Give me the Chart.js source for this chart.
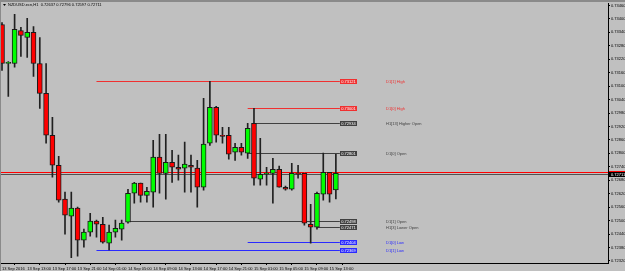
<!DOCTYPE html>
<html>
<head>
<meta charset="utf-8">
<script src="https://cdn.jsdelivr.net/npm/chart.js@4.4.0/dist/chart.umd.min.js"></script>
<style>
  html, body { margin: 0; padding: 0; background: #c0c0c0; overflow: hidden; }
  #wrap { width: 625px; height: 271px; }
</style>
</head>
<body>
<div id="wrap"><canvas id="chart" width="625" height="271"></canvas></div>
<script>
// NZDUSD H1, 13 Sep 09:00 .. 15 Sep 14:00
const chartTitle = 'NZDUSD.ecn,H1  0.72637 0.72796 0.72597 0.72711';
const timeLabels = ['13 Sep 2016', '13 Sep 13:00', '13 Sep 17:00', '13 Sep 21:00', '14 Sep 01:00', '14 Sep 05:00',
  '14 Sep 09:00', '14 Sep 13:00', '14 Sep 17:00', '14 Sep 21:00', '15 Sep 01:00', '15 Sep 05:00', '15 Sep 09:00', '15 Sep 13:00'];

const openPrices = [0.73375, 0.73201, 0.73201, 0.73348, 0.73317, 0.73340, 0.73201, 0.73068, 0.72881, 0.72747,
  0.72596, 0.72520, 0.72556, 0.72413, 0.72449, 0.72498, 0.72484, 0.72400, 0.72449, 0.72462,
  0.72493, 0.72622, 0.72667, 0.72613, 0.72627, 0.72783, 0.72711, 0.72760, 0.72738, 0.72734,
  0.72747, 0.72734, 0.72649, 0.72845, 0.73005, 0.72881, 0.72881, 0.72805, 0.72827, 0.72801,
  0.72934, 0.72685, 0.72707, 0.72711, 0.72729, 0.72649, 0.72640, 0.72711, 0.72711, 0.72484,
  0.72471, 0.72618, 0.72716, 0.72637];
const highPrices = [0.73384, 0.73210, 0.73420, 0.73362, 0.73402, 0.73366, 0.73317, 0.73201, 0.72961, 0.72787,
  0.72627, 0.72627, 0.72560, 0.72462, 0.72533, 0.72502, 0.72515, 0.72480, 0.72502, 0.72502,
  0.72640, 0.72671, 0.72667, 0.72649, 0.72858, 0.72885, 0.72885, 0.72814, 0.72792, 0.72850,
  0.72792, 0.72769, 0.73045, 0.73121, 0.73010, 0.72916, 0.72916, 0.72845, 0.72845, 0.72934,
  0.73001, 0.72867, 0.72738, 0.72778, 0.72743, 0.72654, 0.72756, 0.72747, 0.72711, 0.72573,
  0.72627, 0.72801, 0.72716, 0.72796];
const lowPrices = [0.73170, 0.73054, 0.73184, 0.73233, 0.73228, 0.73143, 0.73001, 0.72845, 0.72694, 0.72582,
  0.72440, 0.72335, 0.72342, 0.72382, 0.72431, 0.72426, 0.72400, 0.72369, 0.72426, 0.72413,
  0.72489, 0.72578, 0.72582, 0.72582, 0.72560, 0.72622, 0.72596, 0.72671, 0.72680, 0.72627,
  0.72627, 0.72560, 0.72636, 0.72836, 0.72850, 0.72845, 0.72774, 0.72769, 0.72792, 0.72778,
  0.72658, 0.72658, 0.72658, 0.72578, 0.72649, 0.72636, 0.72636, 0.72689, 0.72480, 0.72400,
  0.72462, 0.72591, 0.72582, 0.72597];
const closePrices = [0.73201, 0.73206, 0.73353, 0.73326, 0.73340, 0.73201, 0.73068, 0.72881, 0.72747, 0.72591,
  0.72524, 0.72556, 0.72413, 0.72449, 0.72498, 0.72484, 0.72404, 0.72449, 0.72466, 0.72489,
  0.72622, 0.72667, 0.72613, 0.72631, 0.72783, 0.72711, 0.72760, 0.72738, 0.72729, 0.72752,
  0.72738, 0.72649, 0.72841, 0.73005, 0.72881, 0.72876, 0.72796, 0.72827, 0.72805, 0.72912,
  0.72689, 0.72707, 0.72711, 0.72729, 0.72649, 0.72640, 0.72711, 0.72707, 0.72489, 0.72471,
  0.72622, 0.72716, 0.72618, 0.72711];

const priceTicks = [0.73460, 0.73400, 0.73340, 0.73280, 0.73220, 0.73160, 0.73100, 0.73040, 0.72980, 0.72920,
  0.72860, 0.72800, 0.72740, 0.72680, 0.72620, 0.72560, 0.72500, 0.72440, 0.72380, 0.72320];

// pivot levels drawn as segments starting at a bar
const levelNames = ['D1[1] High', 'D1[0] High', 'H1[13] Higher Open', 'D1[0] Open', 'D1[1] Open', 'H1[3] Lower Open', 'D1[0] Low', 'D1[1] Low'];
const levelPrices = [0.73121, 0.73001, 0.72934, 0.72801, 0.72498, 0.72471, 0.72404, 0.72369];
const levelStartBar = [15, 39, 40, 39, 20, 50, 39, 15];
const levelKinds = ['high', 'high', 'open', 'open', 'open', 'open', 'low', 'low'];

const askPrice = 0.72716;
const bidPrice = 0.72711;

const kindColors = { high: '#f03030', open: '#404040', low: '#2a2aff' };
const fontFamily = '"Liberation Sans", Arial, sans-serif';
const tinyFont = '4px ' + fontFamily;

const bodyColors = openPrices.map((o, i) => closePrices[i] > o ? '#00ff00' : (closePrices[i] < o ? '#ff0000' : '#000000'));

const overlay = {
  id: 'overlay',
  beforeDraw(chart) {
    const ctx = chart.ctx;
    ctx.save();
    ctx.fillStyle = '#c0c0c0';
    ctx.fillRect(0, 0, chart.width, chart.height);
    ctx.fillStyle = '#8a8a8a';
    ctx.fillRect(0, 0, chart.width, 2);
    ctx.fillRect(0, 0, 1, chart.height);
    ctx.restore();
  },
  beforeDatasetsDraw(chart) {
    const { ctx, chartArea, scales: { x, y } } = chart;
    ctx.save();
    ctx.lineWidth = 1;
    // ask / bid lines
    ctx.strokeStyle = '#ff0000';
    let py = Math.round(y.getPixelForValue(askPrice)) + 0.5;
    ctx.beginPath(); ctx.moveTo(chartArea.left, py); ctx.lineTo(chartArea.right, py); ctx.stroke();
    ctx.strokeStyle = '#505050';
    py = Math.round(y.getPixelForValue(bidPrice)) + 1.5;
    ctx.beginPath(); ctx.moveTo(chartArea.left, py); ctx.lineTo(chartArea.right, py); ctx.stroke();

    const boxLeft = x.getPixelForValue(openPrices.length - 1) + 4;
    levelPrices.forEach((p, i) => {
      const ly = Math.round(y.getPixelForValue(p)) + 0.5;
      ctx.strokeStyle = kindColors[levelKinds[i]];
      ctx.beginPath();
      ctx.moveTo(x.getPixelForValue(levelStartBar[i]), ly);
      ctx.lineTo(boxLeft, ly);
      ctx.stroke();
    });
    ctx.restore();
  },
  afterDraw(chart) {
    const { ctx, chartArea, scales: { x, y } } = chart;
    ctx.save();
    ctx.font = tinyFont;
    ctx.textBaseline = 'middle';
    const boxLeft = Math.round(x.getPixelForValue(openPrices.length - 1) + 4);
    levelPrices.forEach((p, i) => {
      const ly = Math.round(y.getPixelForValue(p));
      const c = kindColors[levelKinds[i]];
      ctx.fillStyle = c;
      ctx.fillRect(boxLeft, ly - 2, 17, 5);
      ctx.fillStyle = '#ffffff';
      ctx.textAlign = 'center';
      ctx.fillText(p.toFixed(5), boxLeft + 8.5, ly + 0.5);
      ctx.fillStyle = c;
      ctx.textAlign = 'left';
      ctx.fillText(levelNames[i], boxLeft + 46, ly + 0.5);
    });

    // current price tag on the axis
    const by = Math.round(y.getPixelForValue(bidPrice));
    ctx.fillStyle = '#ff0000';
    ctx.fillRect(chartArea.right + 1, by - 2, chart.width - chartArea.right, 1);
    ctx.fillStyle = '#000000';
    ctx.fillRect(chartArea.right + 1, by - 1, chart.width - chartArea.right, 5);
    ctx.fillStyle = '#ffffff';
    ctx.textAlign = 'left';
    ctx.fillText(bidPrice.toFixed(5), chartArea.right + 3, by + 1.5);

    // title
    ctx.fillStyle = '#000000';
    ctx.beginPath();
    ctx.moveTo(3, 4); ctx.lineTo(6, 4); ctx.lineTo(4.5, 6); ctx.closePath(); ctx.fill();
    ctx.fillText(chartTitle, 8, 5);
    ctx.restore();
  }
};

new Chart(document.getElementById('chart'), {
  type: 'bar',
  data: {
    datasets: [
      {
        label: 'wick',
        data: highPrices.map((h, i) => ({ x: i, y: [lowPrices[i], h] })),
        backgroundColor: '#202020',
        barThickness: 1,
        grouped: false,
        order: 2
      },
      {
        label: 'body',
        data: openPrices.map((o, i) => ({ x: i, y: [o, closePrices[i]] })),
        backgroundColor: bodyColors,
        borderColor: '#1a1a1a',
        borderWidth: 1,
        borderSkipped: false,
        barThickness: 5,
        grouped: false,
        order: 1
      }
    ]
  },
  options: {
    responsive: false,
    animation: false,
    devicePixelRatio: 1,
    layout: { padding: { left: 1, top: 3, right: 0, bottom: 0 } },
    plugins: { legend: { display: false }, tooltip: { enabled: false } },
    scales: {
      x: {
        type: 'linear',
        min: -0.16,
        max: 96.2,
        offset: false,
        afterBuildTicks: s => { s.ticks = timeLabels.map((t, k) => ({ value: k * 4 })); },
        afterFit: s => { s.height = 8; },
        ticks: {
          autoSkip: false, maxRotation: 0, align: 'start', padding: 1,
          color: '#000', font: { family: fontFamily, size: 4 },
          callback: (v, k) => timeLabels[k]
        },
        grid: { drawOnChartArea: false, drawTicks: true, tickLength: 2, color: '#000' },
        border: { display: true, color: '#000' }
      },
      y: {
        position: 'right',
        min: 0.72311,
        max: 0.73469,
        afterBuildTicks: s => { s.ticks = priceTicks.map(v => ({ value: v })); },
        afterFit: s => { s.width = 17; },
        ticks: {
          autoSkip: false, padding: 1,
          color: '#000', font: { family: fontFamily, size: 4 },
          callback: v => v.toFixed(5)
        },
        grid: { drawOnChartArea: false, drawTicks: true, tickLength: 2, color: '#000' },
        border: { display: true, color: '#000' }
      }
    }
  },
  plugins: [overlay]
});
</script>
</body>
</html>
